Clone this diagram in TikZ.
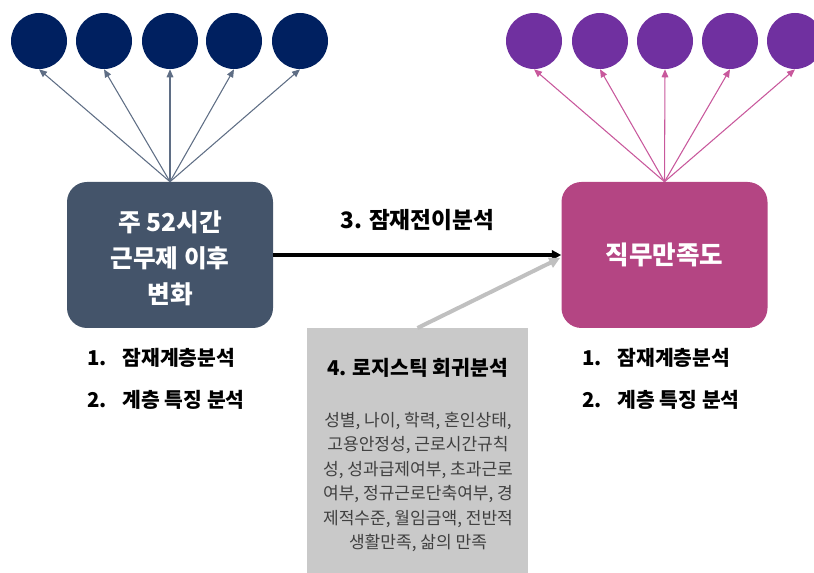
\documentclass[tikz,border=0pt]{standalone}
\usepackage{fontspec}
\setmainfont{Noto Sans CJK KR}
\usetikzlibrary{arrows.meta}
\definecolor{navy}{HTML}{002060}
\definecolor{slate}{HTML}{44546A}
\definecolor{slatearr}{HTML}{5F6E85}
\definecolor{purp}{HTML}{7030A0}
\definecolor{mag}{HTML}{B44583}
\definecolor{magarr}{HTML}{C8589C}
\definecolor{gbox}{HTML}{C9C9C9}
\definecolor{garr}{HTML}{C0C0C0}
\definecolor{dtext}{HTML}{404040}
\begin{document}
\begin{tikzpicture}[x=0.75pt,y=-0.75pt,
  dot/.style={circle,minimum size=42pt,inner sep=0pt},
  mainbox/.style={rounded corners=15pt,minimum width=154.5pt,minimum height=109.5pt,inner sep=0pt,text=white,align=center,font=\fontsize{18.5pt}{27pt}\selectfont\bfseries},
  leftarr/.style={draw=slatearr,line width=0.8pt,-{Triangle[length=6pt,width=5pt]}},
  rightarr/.style={draw=magarr,line width=0.8pt,-{Triangle[length=6pt,width=5pt]}},
  listitem/.style={anchor=west,inner sep=0pt,font=\fontsize{15.3pt}{18pt}\selectfont\bfseries},
]
\useasboundingbox (0,0) rectangle (814,573);

% left circles
\foreach \i/\x in {1/39,2/104,3/170,4/234,5/300}
  \node[dot,fill=navy] (l\i) at (\x,41) {};
% right circles
\foreach \i/\x in {1/534,2/600,3/665,4/730,5/795}
  \node[dot,fill=purp] (r\i) at (\x,41) {};

% main boxes
\node[mainbox,fill=slate] (lb) at (170,255) {};
\node[text=white,align=center,inner sep=0pt,font=\fontsize{18.5pt}{27pt}\selectfont\bfseries] (lbt) at (170,258) {주 52시간\\근무제 이후\\변화};
\node[mainbox,fill=mag,font=\fontsize{19.2pt}{22pt}\selectfont\bfseries] (rb) at (664.5,255) {직무만족도};

% fan arrows
\foreach \i in {1,...,5}
  \draw[leftarr] (lb.north) -- (l\i.south);
\foreach \i in {1,...,5}
  \draw[rightarr] (rb.north) -- (r\i.south);

% gray box
\node[fill=gbox,minimum width=166pt,minimum height=184pt,inner sep=0pt,anchor=north] (gb) at (417.5,328) {};
\node[font=\fontsize{15.3pt}{18pt}\selectfont\bfseries,inner sep=0pt] (gt) at (417.5,368) {4. 로지스틱 회귀분석};
\node[font=\fontsize{12.8pt}{18.4pt}\selectfont,text=dtext,align=center,inner sep=0pt] (gx) at (418,482)
  {성별, 나이, 학력, 혼인상태,\\고용안정성, 근로시간규칙\\성, 성과급제여부, 초과근로\\여부, 정규근로단축여부, 경\\제적수준, 월임금액, 전반적\\생활만족, 삶의 만족};

% main arrow
\draw[line width=2.3pt,-{Triangle[length=7pt,width=7pt]}] (lb.east) -- (rb.west)
  node[midway,above=17pt,inner sep=0pt,font=\fontsize{17pt}{18pt}\selectfont\bfseries] (ml) {3. 잠재전이분석};

% gray arrow
\coordinate (gtip) at (560,258);
\draw[draw=garr,line width=3pt,-{Triangle[length=8pt,width=8pt]}] (gb.north) -- (gtip);

% lists
\node[listitem] (la1) at (87,358) {\makebox[26.5pt][l]{1.}잠재계층분석};
\node[listitem] (la2) at (87,400) {\makebox[26.5pt][l]{2.}계층 특징 분석};
\node[listitem] (ra1) at (582,358) {\makebox[26.5pt][l]{1.}잠재계층분석};
\node[listitem] (ra2) at (582,400) {\makebox[26.5pt][l]{2.}계층 특징 분석};
\end{tikzpicture}
\end{document}
